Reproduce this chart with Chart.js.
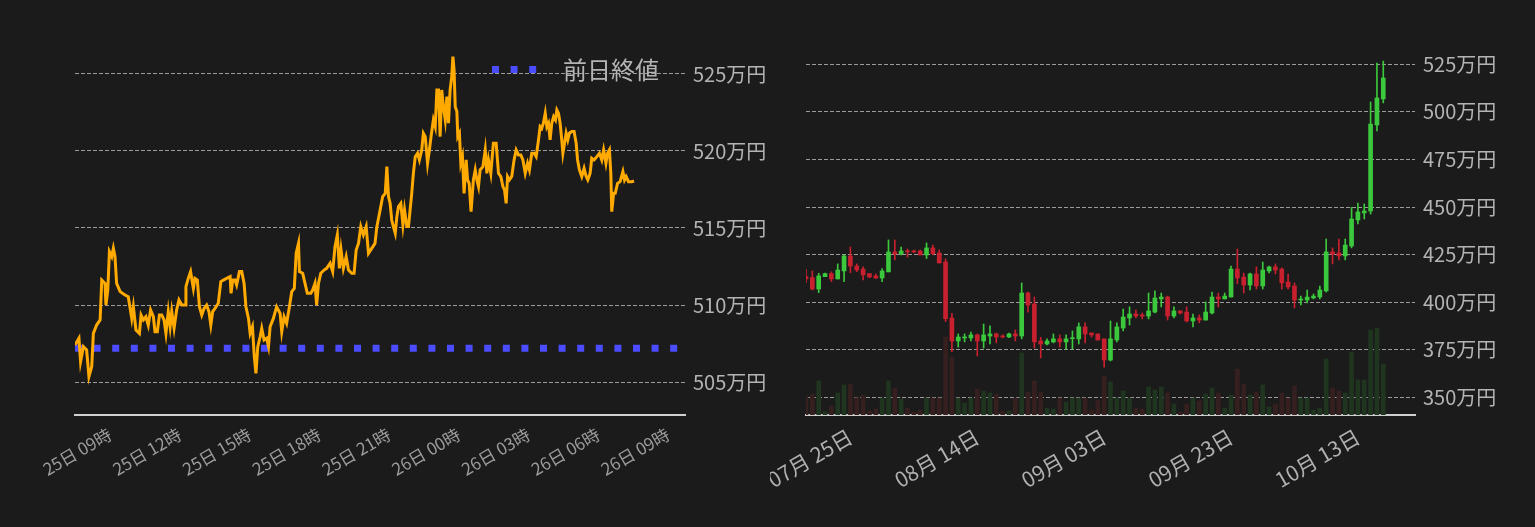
<!DOCTYPE html>
<html>
<head>
<meta charset="utf-8">
<script src="https://cdn.jsdelivr.net/npm/chart.js@4.4.0/dist/chart.umd.min.js"></script>
<style>
  html, body { margin: 0; padding: 0; background: #1b1b1b; }
  #wrap { position: relative; width: 1535px; height: 527px; }
  #left { position: absolute; left: 0; top: 0; }
  #right { position: absolute; left: 770px; top: 0; }
</style>
</head>
<body>
<div id="wrap">
  <canvas id="left" width="770" height="527"></canvas>
  <canvas id="right" width="765" height="527"></canvas>
</div>
<script>
const FONT = '"Noto Sans CJK JP", "Noto Sans", sans-serif';

// ---- left: intraday price (hours counted from 25日 00:00) ----
const hoursFrom25 = [
  7.50,7.67,7.74,7.86,8.00,8.10,8.22,8.29,8.43,8.58,8.65,8.79,8.83,8.91,8.98,9.08,9.15,9.22,9.29,9.44,
  9.65,9.79,9.94,10.01,10.12,10.27,10.34,10.44,10.55,10.65,10.75,10.87,10.94,11.04,11.13,11.23,11.33,11.41,11.51,11.59,
  11.66,11.76,11.87,11.97,12.09,12.23,12.27,12.37,12.47,12.59,12.66,12.76,12.85,12.95,13.05,13.16,13.26,13.34,13.42,13.52,
  13.66,13.77,13.88,14.02,14.17,14.21,14.28,14.38,14.45,14.57,14.67,14.77,14.85,14.96,15.03,15.13,15.21,15.28,15.36,15.46,
  15.53,15.63,15.74,15.82,15.89,16.03,16.17,16.32,16.39,16.49,16.60,16.72,16.82,16.93,17.01,17.11,17.15,17.29,17.39,17.49,
  17.64,17.72,17.82,17.89,17.97,18.07,18.21,18.32,18.47,18.58,18.68,18.78,18.87,18.94,19.04,19.16,19.26,19.40,19.50,19.59,
  19.69,19.79,19.90,20.02,20.12,20.26,20.40,20.48,20.62,20.73,20.84,20.91,20.98,21.05,21.12,21.19,21.27,21.34,21.41,21.51,
  21.60,21.67,21.77,21.84,21.91,21.98,22.05,22.13,22.23,22.31,22.41,22.48,22.56,22.66,22.74,22.81,22.91,22.99,23.06,23.13,
  23.20,23.27,23.34,23.42,23.49,23.56,23.63,23.70,23.75,23.80,23.85,23.92,23.96,24.03,24.09,24.16,24.23,24.32,24.38,24.45,
  24.53,24.63,24.71,24.78,24.85,24.92,25.04,25.14,25.21,25.28,25.38,25.49,25.61,25.71,25.81,25.90,25.97,26.04,26.10,26.18,
  26.28,26.38,26.47,26.57,26.67,26.76,26.86,26.96,27.04,27.14,27.24,27.33,27.43,27.50,27.57,27.64,27.72,27.79,27.86,27.93,
  28.00,28.08,28.16,28.22,28.29,28.36,28.43,28.48,28.55,28.62,28.69,28.76,28.86,28.96,29.05,29.11,29.19,29.29,29.39,29.48,
  29.55,29.65,29.72,29.82,29.94,30.05,30.15,30.23,30.33,30.40,30.48,30.54,30.58,30.66,30.73,30.83,30.94,31.06,31.13,31.20,
  31.30,31.44,31.54
];
const pricesMan = [
  507.40,507.84,506.32,507.30,507.08,505.35,506.00,508.16,508.70,509.03,511.62,511.41,510.00,510.97,513.46,513.14,513.68,513.14,511.41,510.87,
  510.65,510.54,509.13,509.89,508.38,508.16,509.35,509.03,509.24,508.70,509.68,509.24,508.27,508.27,509.35,509.35,509.03,508.16,509.57,508.59,
  509.57,508.49,509.68,510.33,510.00,510.00,511.19,511.73,512.17,511.08,511.73,511.62,509.89,509.35,509.78,510.00,509.57,508.70,509.57,509.78,
  510.11,511.52,511.62,511.73,511.84,510.76,511.62,511.62,511.30,512.17,512.17,511.41,509.89,509.13,508.16,508.59,506.65,505.56,507.30,507.94,
  508.49,507.73,507.84,507.30,508.59,509.13,509.89,509.46,508.27,509.24,508.81,509.89,510.87,511.08,513.36,514.00,512.17,512.06,511.41,510.76,
  510.76,510.97,511.41,510.00,511.41,512.06,512.27,512.38,512.71,512.17,513.79,514.55,512.38,513.57,512.38,513.14,512.27,512.06,512.06,513.57,
  514.00,515.09,514.55,515.09,513.36,513.68,514.00,515.09,516.17,517.04,517.25,518.98,517.04,516.60,515.52,515.09,514.66,515.74,516.39,516.60,
  515.20,516.17,515.09,515.09,516.17,517.25,518.55,519.63,519.85,519.42,520.07,521.15,520.93,519.20,520.07,520.93,522.02,521.58,523.96,523.96,
  520.93,523.96,522.88,522.02,523.53,521.80,523.96,524.83,526.13,525.26,522.88,522.56,520.93,521.15,519.20,519.63,517.25,519.42,518.12,517.90,
  516.06,518.12,518.77,518.12,517.69,518.77,518.98,520.07,518.55,519.42,518.55,520.50,520.50,518.55,518.34,517.69,517.47,516.60,518.34,518.12,
  518.34,519.42,520.07,519.74,519.74,519.42,518.55,519.20,518.77,519.85,519.85,519.63,520.72,521.58,521.47,521.80,522.45,521.58,521.80,520.72,
  521.80,522.23,522.02,522.66,522.45,521.80,520.72,519.85,520.50,521.15,520.72,521.15,521.26,521.26,520.50,519.42,518.77,518.34,518.88,518.34,
  518.12,518.55,519.53,519.42,519.63,519.85,519.42,520.07,519.20,519.85,520.07,518.55,516.06,517.25,517.25,517.90,518.01,518.66,518.12,518.34,
  518.01,518.01,518.05
];
const prevCloseMan = 507.2;
const hourTickValues = [9, 12, 15, 18, 21, 24, 27, 30, 33];
const hourTickLabels = ['25日 09時', '25日 12時', '25日 15時', '25日 18時', '25日 21時',
                        '26日 00時', '26日 03時', '26日 06時', '26日 09時'];
const leftYTicks = [505, 510, 515, 520, 525];
const LEFT_X_MIN = 7.5, LEFT_X_MAX = 33.73;

// ---- right: daily candles ----
const dates = [
  '07/18','07/19','07/20','07/21','07/22','07/23','07/24','07/25','07/26','07/27','07/28','07/29','07/30','07/31',
  '08/01','08/02','08/03','08/04','08/05','08/06','08/07','08/08','08/09','08/10','08/11','08/12','08/13','08/14','08/15','08/16',
  '08/17','08/18','08/19','08/20','08/21','08/22','08/23','08/24','08/25','08/26','08/27','08/28','08/29','08/30','08/31',
  '09/01','09/02','09/03','09/04','09/05','09/06','09/07','09/08','09/09','09/10','09/11','09/12','09/13','09/14','09/15',
  '09/16','09/17','09/18','09/19','09/20','09/21','09/22','09/23','09/24','09/25','09/26','09/27','09/28','09/29','09/30',
  '10/01','10/02','10/03','10/04','10/05','10/06','10/07','10/08','10/09','10/10','10/11','10/12','10/13','10/14','10/15',
  '10/16','10/17','10/18','10/19','10/20','10/21','10/22'
];
const opens = [
  413.4,412.9,406.9,413.4,415.0,412.2,416.4,424.3,419.0,417.4,415.0,413.8,412.7,415.9,426.4,425.3,426.9,426.9,426.9,424.8,
  428.5,425.8,421.1,391.7,379.6,381.2,381.2,382.8,379.6,382.2,383.3,382.2,381.7,383.3,382.2,404.8,399.0,379.6,378.0,379.1,
  380.7,379.1,380.8,380.7,387.0,383.8,383.3,380.7,369.6,380.1,386.4,391.7,393.8,393.3,392.7,394.8,401.7,402.7,392.7,395.4,
  394.8,390.1,391.7,390.6,394.3,402.7,401.7,402.7,417.4,413.2,409.0,414.8,408.5,416.4,418.5,417.4,410.6,408.5,401.1,401.1,
  402.2,402.7,405.9,426.4,425.8,424.3,429.5,443.2,446.9,447.9,493.1,506.8
];
const highs = [
  417.3,416.4,415.2,415.3,416.0,420.1,424.8,429.0,420.1,418.5,415.0,414.8,417.6,432.7,432.7,429.0,427.9,427.4,427.4,431.1,
  430.0,427.4,422.7,394.1,383.3,383.3,384.3,383.3,388.5,387.5,383.8,382.9,383.8,385.4,410.1,405.3,402.7,381.5,380.7,383.3,
  382.8,382.8,384.9,389.1,389.1,383.8,383.3,380.7,390.1,389.1,396.4,397.5,395.9,394.3,404.8,405.9,404.8,403.2,397.5,395.4,
  397.5,393.8,393.3,400.1,405.3,404.8,404.8,419.0,427.9,415.3,415.3,418.5,421.1,419.0,420.1,418.0,414.8,410.1,403.2,406.4,
  404.3,408.5,433.2,428.5,433.2,433.2,449.8,452.1,451.6,505.2,525.7,526.7
];
const lows = [
  410.3,406.4,405.0,413.4,410.8,412.2,410.8,415.5,416.0,411.7,412.9,412.4,410.8,415.9,422.2,424.8,423.7,426.0,424.8,422.9,
  424.8,420.6,389.8,374.0,376.4,379.1,379.6,371.7,375.9,378.0,378.6,381.2,381.4,379.6,380.7,394.8,375.9,370.7,377.5,378.6,
  376.4,375.4,375.4,378.0,378.6,381.7,380.1,365.9,369.1,379.1,384.9,388.0,391.7,391.2,391.2,394.3,397.5,390.6,391.7,393.8,
  389.6,387.0,389.1,390.6,393.8,397.5,401.7,402.7,409.6,404.8,406.4,406.9,406.9,415.3,414.8,406.9,406.9,396.9,398.5,399.6,
  401.7,401.7,405.3,420.1,422.2,422.2,428.5,441.1,443.7,446.3,490.0,504.7
];
const closes = [
  412.2,406.9,413.8,415.0,412.2,416.9,424.3,419.0,416.9,414.3,413.2,412.7,416.4,426.4,425.3,426.9,426.4,426.4,424.8,428.5,
  425.5,420.6,391.3,379.6,381.7,381.7,382.8,379.6,382.8,383.3,381.7,381.7,383.3,382.2,404.8,398.5,379.1,378.0,379.6,380.7,
  379.1,380.7,381.2,387.0,383.3,382.8,380.1,369.6,380.7,387.0,392.2,393.8,392.7,392.7,395.4,402.2,402.7,392.7,395.4,394.3,
  390.1,391.7,390.6,394.8,402.7,401.7,403.2,417.4,412.7,409.0,414.8,408.5,416.9,418.5,416.9,410.1,408.0,401.1,401.7,402.7,
  403.2,406.4,426.4,425.3,424.3,430.0,443.7,447.4,447.9,493.6,507.3,517.8
];
const volumes = [
  550,630,1020,100,270,660,900,930,520,600,120,180,510,1020,810,480,210,90,150,510,
  510,510,2340,1740,510,360,510,780,720,660,630,120,120,510,1860,690,1020,690,210,180,
  510,390,510,510,510,150,450,1170,990,510,720,510,210,180,840,750,840,660,330,90,
  330,510,420,630,810,660,210,600,1380,930,600,690,900,240,330,660,510,870,510,510,
  150,210,1680,810,720,660,1890,1050,1050,2550,2610,1530
];
const dateTickLabels = ['07/25', '08/14', '09/03', '09/23', '10/13'];
const rightYTicks = [350, 375, 400, 425, 450, 475, 500, 525];

const UP = '#3cc83c', DOWN = '#c8202e';
const UP_VOL = '#1f351f', DOWN_VOL = '#361f1f';
const GRID = 'rgba(200,200,200,0.75)';

// legend for the previous-close line, drawn in the top right of the left plot
const prevCloseLegend = {
  id: 'prevCloseLegend',
  afterDraw(chart) {
    const ds = chart.data.datasets[1];
    const ctx = chart.ctx;
    const x0 = chart.chartArea.right - 193;
    const y0 = 69.5;
    ctx.save();
    ctx.strokeStyle = ds.borderColor;
    ctx.lineWidth = ds.borderWidth;
    ctx.setLineDash(ds.borderDash);
    ctx.beginPath();
    ctx.moveTo(x0, y0);
    ctx.lineTo(x0 + 45, y0);
    ctx.stroke();
    ctx.setLineDash([]);
    ctx.fillStyle = '#b4b4b4';
    ctx.font = '24px ' + FONT;
    ctx.textBaseline = 'middle';
    ctx.fillText(ds.label, x0 + 71, y0);
    ctx.restore();
  }
};

new Chart(document.getElementById('left'), {
  type: 'line',
  data: {
    datasets: [
      {
        label: '価格',
        data: hoursFrom25.map((h, i) => ({ x: h, y: pricesMan[i] })),
        borderColor: '#ffaa00',
        borderWidth: 3,
        pointRadius: 0,
        tension: 0,
        order: 0
      },
      {
        label: '前日終値',
        data: [{ x: LEFT_X_MIN, y: prevCloseMan }, { x: LEFT_X_MAX, y: prevCloseMan }],
        borderColor: '#4b4bff',
        borderWidth: 7,
        borderDash: [7, 11.6],
        borderCapStyle: 'butt',
        pointRadius: 0,
        order: 1
      }
    ]
  },
  options: {
    responsive: false,
    animation: false,
    layout: { padding: { left: 75, top: 45, right: 0, bottom: 0 } },
    plugins: { legend: { display: false }, tooltip: { enabled: false } },
    scales: {
      x: {
        type: 'linear',
        min: LEFT_X_MIN,
        max: LEFT_X_MAX,
        afterBuildTicks: s => { s.ticks = hourTickValues.map(v => ({ value: v })); },
        afterFit: s => { s.height = 112; },
        grid: { display: false },
        border: { display: true, color: '#cfcfcf', width: 2 },
        ticks: {
          minRotation: 30, maxRotation: 30, padding: 1,
          color: '#9c9c9c',
          font: { family: FONT, size: 17 },
          callback: v => hourTickLabels[hourTickValues.indexOf(v)]
        }
      },
      y: {
        position: 'right',
        min: 502.86,
        max: 526.88,
        afterBuildTicks: s => { s.ticks = leftYTicks.map(v => ({ value: v })); },
        afterFit: s => { s.width = 85; },
        grid: { color: GRID, lineWidth: 1, drawTicks: false },
        border: { display: false, dash: [4, 2] },
        ticks: {
          padding: 8, color: '#b4b4b4',
          font: { family: FONT, size: 20 },
          callback: v => v + '万円'
        }
      }
    }
  },
  plugins: [prevCloseLegend]
});

const upDown = opens.map((o, i) => closes[i] >= o);

new Chart(document.getElementById('right'), {
  type: 'bar',
  data: {
    labels: dates,
    datasets: [
      {
        label: 'body',
        data: opens.map((o, i) => [o, closes[i]]),
        backgroundColor: upDown.map(u => u ? UP : DOWN),
        barThickness: 4,
        minBarLength: 1,
        grouped: false,
        order: 0
      },
      {
        label: 'wick',
        data: lows.map((l, i) => [l, highs[i]]),
        backgroundColor: upDown.map(u => u ? UP : DOWN),
        barThickness: 1,
        grouped: false,
        order: 1
      },
      {
        label: 'volume',
        data: volumes,
        yAxisID: 'yv',
        backgroundColor: upDown.map(u => u ? UP_VOL : DOWN_VOL),
        barThickness: 4,
        grouped: false,
        order: 2
      }
    ]
  },
  options: {
    responsive: false,
    animation: false,
    layout: { padding: { left: 36, top: 52, right: 0, bottom: 0 } },
    plugins: { legend: { display: false }, tooltip: { enabled: false } },
    scales: {
      x: {
        offset: false,
        afterFit: s => { s.height = 112; },
        grid: { display: false },
        border: { display: true, color: '#cfcfcf', width: 2 },
        ticks: {
          autoSkip: false,
          minRotation: 30, maxRotation: 30, padding: 1,
          color: '#b0b0b0',
          font: { family: FONT, size: 21 },
          callback: (v, i) => dateTickLabels.includes(dates[i])
            ? dates[i].replace('/', '月 ') + '日' : ''
        }
      },
      y: {
        position: 'right',
        min: 340.7,
        max: 531.46,
        afterBuildTicks: s => { s.ticks = rightYTicks.map(v => ({ value: v })); },
        afterFit: s => { s.width = 120; },
        grid: { color: GRID, lineWidth: 1, drawTicks: false },
        border: { display: false, dash: [4, 2] },
        ticks: {
          padding: 8, color: '#b4b4b4',
          font: { family: FONT, size: 20 },
          callback: v => v + '万円'
        }
      },
      yv: {
        display: false,
        min: 0,
        max: 10890
      }
    }
  }
});
</script>
</body>
</html>
